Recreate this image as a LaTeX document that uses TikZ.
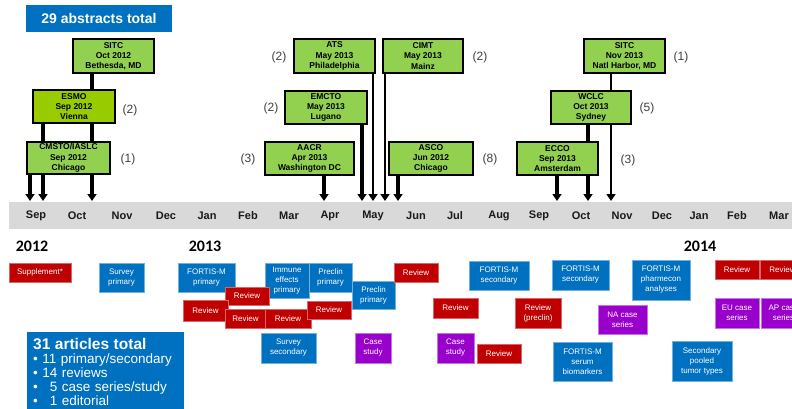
\documentclass[tikz,border=0pt]{standalone}
\usepackage{fontspec}
\setmainfont{Liberation Sans}
\newfontfamily\yearfont{Carlito}
\usetikzlibrary{arrows.meta}
\pgfdeclarelayer{background}
\pgfsetlayers{background,main}
\definecolor{cblue}{RGB}{0,112,192}
\definecolor{cred}{RGB}{192,0,0}
\definecolor{cpurple}{RGB}{153,0,204}
\definecolor{cgreen}{RGB}{146,208,80}
\definecolor{cgreenB}{RGB}{153,204,0}
\definecolor{cband}{RGB}{217,217,217}
\definecolor{cnum}{RGB}{64,64,64}
\newcommand{\bx}[7]{\node[#1, minimum width={#5-#3}, minimum height={#6-#4}] (#2) at ({(#3+#5)/2},{(#4+#6)/2}) {#7};}
\begin{document}
\begin{tikzpicture}[x=1pt,y=-1pt,
 conf/.style={draw=black, line width=2.2pt, fill=cgreen, font=\bfseries\fontsize{8.5}{10.3}\selectfont, align=center, inner sep=0pt},
 art/.style={text=white, font=\fontsize{8}{10}\selectfont, align=center, inner sep=0pt, line width=0.5pt},
 blu/.style={art, fill=cblue, draw=cblue!55!white},
 rd/.style={art, fill=cred, draw=cred!60!white},
 pur/.style={art, fill=cpurple, draw=cpurple!55!white},
 cnt/.style={text=cnum, font=\fontsize{12}{12}\selectfont},
 month/.style={font=\bfseries\fontsize{11}{11}\selectfont, text=black!90},
 yr/.style={font=\yearfont\bfseries\fontsize{16}{16}\selectfont},
 arr/.style={line width=3.4pt, -{Triangle[width=9pt,length=7pt]}},
 arrthin/.style={line width=2.4pt, -{Triangle[width=9pt,length=7pt]}}]
\useasboundingbox (0,0) rectangle (792,409);
\clip (0,0) rectangle (792,409);

% title
\bx{fill=cblue, text=white, font=\bfseries\fontsize{14}{14}\selectfont, inner sep=0pt}{title}{26}{5}{172}{32}{29 abstracts total}

% conferences
\bx{conf}{sitcA}{73}{39}{154}{73}{SITC\\Oct 2012\\Bethesda, MD}
\bx{conf, fill=cgreenB}{esmo}{33}{90}{115}{123}{ESMO\\Sep 2012\\Vienna}
\bx{conf}{cmsto}{27}{142}{110}{174}{CMSTO/IASLC\\Sep 2012\\Chicago}
\bx{conf}{ats}{294}{39}{375}{73}{ATS\\May 2013\\Philadelphia}
\bx{conf}{cimt}{383}{39}{463}{73}{CIMT\\May 2013\\Mainz}
\bx{conf}{emcto}{285}{91}{367}{124}{EMCTO\\May 2013\\Lugano}
\bx{conf}{aacr}{265}{142}{354}{175}{AACR\\Apr 2013\\Washington DC}
\bx{conf}{asco}{389}{142}{473}{175}{ASCO\\Jun 2012\\Chicago}
\bx{conf}{sitcB}{584}{39}{665}{73}{SITC\\Nov 2013\\Natl Harbor, MD}
\bx{conf}{wclc}{551}{91}{631}{124}{WCLC\\Oct 2013\\Sydney}
\bx{conf}{ecco}{517}{142}{598}{175}{ECCO\\Sep 2013\\Amsterdam}

% counts
\node[cnt] (nEsmo) at (130,110) {(2)};
\node[cnt] (nCmsto) at (128,159) {(1)};
\node[cnt] (nAts) at (279,57) {(2)};
\node[cnt] (nCimt) at (480,57) {(2)};
\node[cnt] (nEmcto) at (271,108) {(2)};
\node[cnt] (nAacr) at (248,159) {(3)};
\node[cnt] (nAsco) at (490,159) {(8)};
\node[cnt] (nSitcB) at (681,57) {(1)};
\node[cnt] (nWclc) at (647,108) {(5)};
\node[cnt] (nEcco) at (628,160) {(3)};

% arrow targets
\coordinate (tA) at (30,201);
\coordinate (tB) at (43,201);
\coordinate (tC) at (92,201);
\coordinate (tD) at (324,201);
\coordinate (tE) at (362,201);
\coordinate (tF) at (373,201);
\coordinate (tG) at (385,201);
\coordinate (tH) at (398,201);
\coordinate (tI) at (557,201);
\coordinate (tJ) at (588,201);
\coordinate (tK) at (611,201);

\begin{pgfonlayer}{background}
\fill[white] (0,0) rectangle (792,409);
\fill[cband] (9,202) rectangle (792,229);
\draw[arr] (cmsto.south -| tA) -- (tA);
\draw[arr] (esmo.south -| tB) -- (tB);
\draw[arr] (sitcA.south -| tC) -- (tC);
\draw[arr] (aacr.south -| tD) -- (tD);
\draw[arr] (emcto.south -| tE) -- (tE);
\draw[arrthin] (ats.south -| tF) -- (tF);
\draw[arrthin] (cimt.south -| tG) -- (tG);
\draw[arr] (asco.south -| tH) -- (tH);
\draw[arr] (ecco.south -| tI) -- (tI);
\draw[arr] (wclc.south -| tJ) -- (tJ);
\draw[arrthin] (sitcB.south -| tK) -- (tK);
\end{pgfonlayer}

% months
\node[month] (m1) at (36,216) {Sep};
\node[month] (m2) at (77,216) {Oct};
\node[month] (m3) at (122,216) {Nov};
\node[month] (m4) at (166,216) {Dec};
\node[month] (m5) at (207,216) {Jan};
\node[month] (m6) at (248,216) {Feb};
\node[month] (m7) at (289,216) {Mar};
\node[month] (m8) at (330,216) {Apr};
\node[month] (m9) at (373,216) {May};
\node[month] (m10) at (416,216) {Jun};
\node[month] (m11) at (455,216) {Jul};
\node[month] (m12) at (499,216) {Aug};
\node[month] (m13) at (539,216) {Sep};
\node[month] (m14) at (581,216) {Oct};
\node[month] (m15) at (622,216) {Nov};
\node[month] (m16) at (662,216) {Dec};
\node[month] (m17) at (699,216) {Jan};
\node[month] (m18) at (737,216) {Feb};
\node[month] (m19) at (779,216) {Mar};

% years
\node[yr] (y12) at (32,246) {2012};
\node[yr] (y13) at (205,246) {2013};
\node[yr] (y14) at (700,246) {2014};

% articles
\bx{rd}{supp}{9}{263}{71}{282}{Supplement*}
\bx{blu}{survP}{99}{263}{144}{292}{Survey\\primary}
\bx{blu}{fortP}{178}{263}{235}{292}{FORTIS-M\\primary}
\bx{blu}{immune}{265}{263}{309}{298}{Immune\\effects\\primary}
\bx{blu}{preA}{309}{263}{352}{292}{Preclin\\primary}
\bx{rd}{revA}{225}{287}{269}{305}{Review}
\bx{rd}{revB}{183}{300}{228}{321}{Review}
\bx{rd}{revC}{225}{309}{266}{328}{Review}
\bx{rd}{revD}{265}{309}{311}{328}{Review}
\bx{blu}{preB}{352}{281}{395}{309}{Preclin\\primary}
\bx{rd}{revE}{307}{301}{351}{319}{Review}
\bx{rd}{revF}{394}{263}{438}{282}{Review}
\bx{blu}{survS}{261}{333}{316}{363}{Survey\\secondary}
\bx{pur}{caseA}{355}{333}{391}{363}{Case\\study}
\bx{rd}{revG}{433}{298}{478}{318}{Review}
\bx{pur}{caseB}{437}{333}{474}{363}{Case\\study}
\bx{rd}{revH}{477}{344}{521}{363}{Review}
\bx{blu}{fortSA}{469}{261}{529}{290}{FORTIS-M\\secondary}
\bx{rd}{revPre}{515}{298}{561}{328}{Review\\(preclin)}
\bx{blu}{fortSB}{552}{260}{609}{290}{FORTIS-M\\secondary}
\bx{blu}{pharm}{632}{260}{690}{300}{FORTIS-M\\pharmecon\\analyses}
\bx{rd}{revI}{715}{260}{759}{279}{Review}
\bx{rd}{revJ}{760}{260}{805}{279}{Review}
\bx{pur}{naCase}{598}{305}{647}{334}{NA case\\series}
\bx{pur}{euCase}{715}{298}{759}{328}{EU case\\series}
\bx{pur}{apCase}{761}{298}{806}{328}{AP case\\series}
\bx{blu}{serum}{553}{342}{612}{381}{FORTIS-M\\serum\\biomarkers}
\bx{blu}{pooled}{672}{341}{732}{381}{Secondary\\pooled\\tumor types}

% summary
\node[fill=cblue, text=white, anchor=north west, minimum width=155pt, minimum height=80pt,
      text width=145pt, inner xsep=6pt, inner ysep=2pt, align=left,
      font=\fontsize{13.5}{14}\selectfont] (summary) at (27,332)
 {{\bfseries\fontsize{15.5}{15}\selectfont 31 articles total}\\
  \textbullet\ 11 primary/secondary\\
  \textbullet\ 14 reviews\\
  \textbullet\ \hphantom{1}5 case series/study\\
  \textbullet\ \hphantom{1}1 editorial};
\end{tikzpicture}
\end{document}
